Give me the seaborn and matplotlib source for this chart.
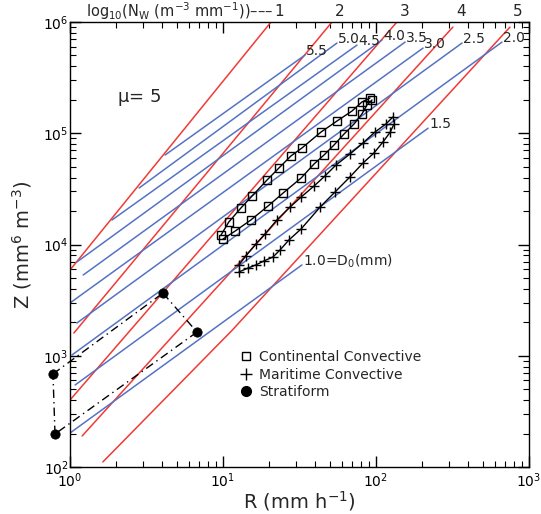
import numpy as np
import pandas as pd
import matplotlib
matplotlib.use("Agg")
import matplotlib.pyplot as plt
import seaborn as sns
from matplotlib.lines import Line2D

# ---------------- data ----------------
# red lines: constant log10(Nw)
nw_labels = ["1", "2", "3", "4", "5"]
nw_R = [[1.0, 20.6], [1.06, 51.6], [1.0, 137.0], [1.2, 318.0], [1.64, 11.5, 751.0]]
nw_Z = [[5900, 1.0e6], [1600, 1.0e6], [400, 1.0e6], [190, 9.0e5], [111, 1700, 9.0e5]]

# blue lines: constant D0 (mm)
d0_labels = ["5.5", "5.0", "4.5", "4.0", "3.5", "3.0", "2.5", "2.0", "1.5", "1.0=D$_0$(mm)"]
d0_R = [[4.18, 34.4], [2.83, 55.6], [1.88, 75.1], [1.11, 109.5], [1.22, 155.0],
        [1.0, 203.0], [1.11, 365.0], [1.03, 666.0], [1.08, 219.0], [1.0, 32.8]]
d0_Z = [[63700, 5.05e5], [32200, 6.47e5], [16600, 6.2e5], [6970, 6.89e5], [5320, 6.6e5],
        [2980, 5.83e5], [1970, 6.47e5], [1016, 6.6e5], [546, 1.11e5], [202, 6550]]

# Continental convective (two branches)
cont_up_R = [9.70, 10.9, 13.1, 15.5, 19.4, 23.2, 27.8, 32.8, 43.7, 55.6, 69.7, 80.9, 91.4]
cont_up_Z = [12160, 15900, 21300, 27300, 38000, 48700, 62500, 73700, 102500, 128800, 158500, 191000, 207600]
cont_lo_R = [10.0, 12.0, 15.2, 19.7, 24.7, 32.4, 39.4, 45.7, 53.1, 61.8, 71.8, 80.9, 87.3, 94.2]
cont_lo_Z = [11200, 13200, 16600, 22200, 29000, 39600, 53000, 63700, 78300, 98400, 121000, 149000, 179500, 199000]

# Maritime convective (two branches)
mar_up_R = [12.7, 14.1, 16.4, 18.8, 22.5, 27.4, 32.4, 39.4, 46.4, 54.8, 67.6, 82.2, 98.5, 116, 129]
mar_up_Z = [6550, 7890, 10100, 12400, 16600, 21700, 26700, 33600, 41300, 51900, 65100, 81700, 102600, 121000, 140000]
mar_lo_R = [12.7, 14.6, 16.4, 18.5, 21.2, 23.6, 27.0, 32.4, 43.1, 53.9, 67.6, 82.2, 97.0, 111, 124, 131]
mar_lo_Z = [5660, 6150, 6550, 7110, 7720, 8930, 11000, 13800, 21700, 29600, 40500, 54000, 66400, 83400, 102600, 121000]

# Stratiform (closed loop of four points)
strat_R = [0.774, 4.05, 6.76, 0.798]
strat_Z = [686, 3660, 1633, 198]

mu_text = "$\\mu$= 5"
legend_labels = ["Continental Convective", "Maritime Convective", "Stratiform"]

# ---------------- style ----------------
RED = "#f03a35"
BLUE = "#5573c4"

sns.set_style("ticks")
plt.rcParams["font.family"] = ["DejaVu Sans"]
plt.rcParams["mathtext.default"] = "regular"

fig = plt.figure(figsize=(5.41, 5.14), dpi=100)
ax = fig.add_axes([70 / 541, 1 - 467 / 514, 459 / 541, 445 / 514])
ax.set_xscale("log")
ax.set_yscale("log")

# red lines
red_df = pd.DataFrame({
    "R": [r for rs in nw_R for r in rs],
    "Z": [z for zs in nw_Z for z in zs],
    "line": [lab for lab, rs in zip(nw_labels, nw_R) for _ in rs],
})
sns.lineplot(data=red_df, x="R", y="Z", units="line", estimator=None, sort=False,
             color=RED, lw=1.1, ax=ax, legend=False)

# blue lines
blue_df = pd.DataFrame({
    "R": [r for rs in d0_R for r in rs],
    "Z": [z for zs in d0_Z for z in zs],
    "line": [lab for lab, rs in zip(d0_labels, d0_R) for _ in rs],
})
sns.lineplot(data=blue_df, x="R", y="Z", units="line", estimator=None, sort=False,
             color=BLUE, lw=1.1, ax=ax, legend=False)

# blue labels at upper-right ends
for lab, rs, zs in zip(d0_labels, d0_R, d0_Z):
    ax.annotate(lab, xy=(rs[-1], zs[-1]), xytext=(1, 4), textcoords="offset pixels",
                ha="left", va="center", fontsize=10)

# top labels for red lines
for lab, rs in zip(nw_labels, nw_R):
    ax.annotate(lab, xy=(rs[-1], 1.0), xycoords=("data", "axes fraction"),
                xytext=(8, 11), textcoords="offset pixels", ha="center", va="center",
                fontsize=11, annotation_clip=False)
ax.annotate("log$_{10}$(N$_W$ (m$^{-3}$ mm$^{-1}$))\u2013\u2013\u2013", xy=(nw_R[0][-1], 1.0),
            xycoords=("data", "axes fraction"), xytext=(2, 11), textcoords="offset pixels",
            ha="right", va="center", fontsize=10.5, annotation_clip=False)

# data series
for R, Z in [(cont_up_R, cont_up_Z), (cont_lo_R, cont_lo_Z)]:
    sns.lineplot(x=R, y=Z, sort=False, estimator=None, color="black", lw=1.0,
                 marker="s", markersize=6, markerfacecolor="none", markeredgecolor="black",
                 markeredgewidth=1.0, ax=ax, zorder=5)
for R, Z in [(mar_up_R, mar_up_Z), (mar_lo_R, mar_lo_Z)]:
    sns.lineplot(x=R, y=Z, sort=False, estimator=None, color="black", lw=1.0,
                 marker="+", markersize=7, markeredgecolor="black", markeredgewidth=1.0,
                 ax=ax, zorder=5)

# stratiform loop: each edge dash-dot, clip off
n = len(strat_R)
for i in range(n):
    j = (i + 1) % n
    ax.plot([strat_R[i], strat_R[j]], [strat_Z[i], strat_Z[j]], color="black", lw=1.0,
            linestyle=(0, (6, 3, 1, 3)), clip_on=False, zorder=5)
sns.scatterplot(x=strat_R, y=strat_Z, color="black", s=45, edgecolor="black", ax=ax,
                zorder=6, clip_on=False, legend=False)

ax.set_xlim(1, 1000)
ax.set_ylim(100, 1e6)

ax.text(0.150, 0.831, mu_text, transform=ax.transAxes, fontsize=13, ha="center", va="center")

# legend
handles = [
    Line2D([], [], linestyle="none", marker="s", markersize=6, markerfacecolor="none",
           markeredgecolor="black"),
    Line2D([], [], linestyle="none", marker="+", markersize=8, markeredgecolor="black"),
    Line2D([], [], linestyle="none", marker="o", markersize=7, markerfacecolor="black",
           markeredgecolor="black"),
]
ax.legend(handles, legend_labels, loc="upper left", bbox_to_anchor=(0.351, 0.284),
          frameon=False, fontsize=10, handlelength=0.8, handletextpad=0.5,
          labelspacing=0.25, borderpad=0.2)

# axes styling
ax.set_xlabel("R (mm h$^{-1}$)", fontsize=14, labelpad=-1)
ax.set_ylabel("Z (mm$^6$ m$^{-3}$)", fontsize=14, labelpad=7)
ax.tick_params(which="both", direction="in", top=True, right=True, colors="black",
               labelsize=10)
ax.tick_params(which="major", length=8, width=1)
ax.tick_params(which="minor", length=4, width=0.8)
ax.tick_params(axis="y", pad=1)
for s in ax.spines.values():
    s.set_linewidth(1.0)
    s.set_color("black")

fig.savefig("out.png", dpi=100)
